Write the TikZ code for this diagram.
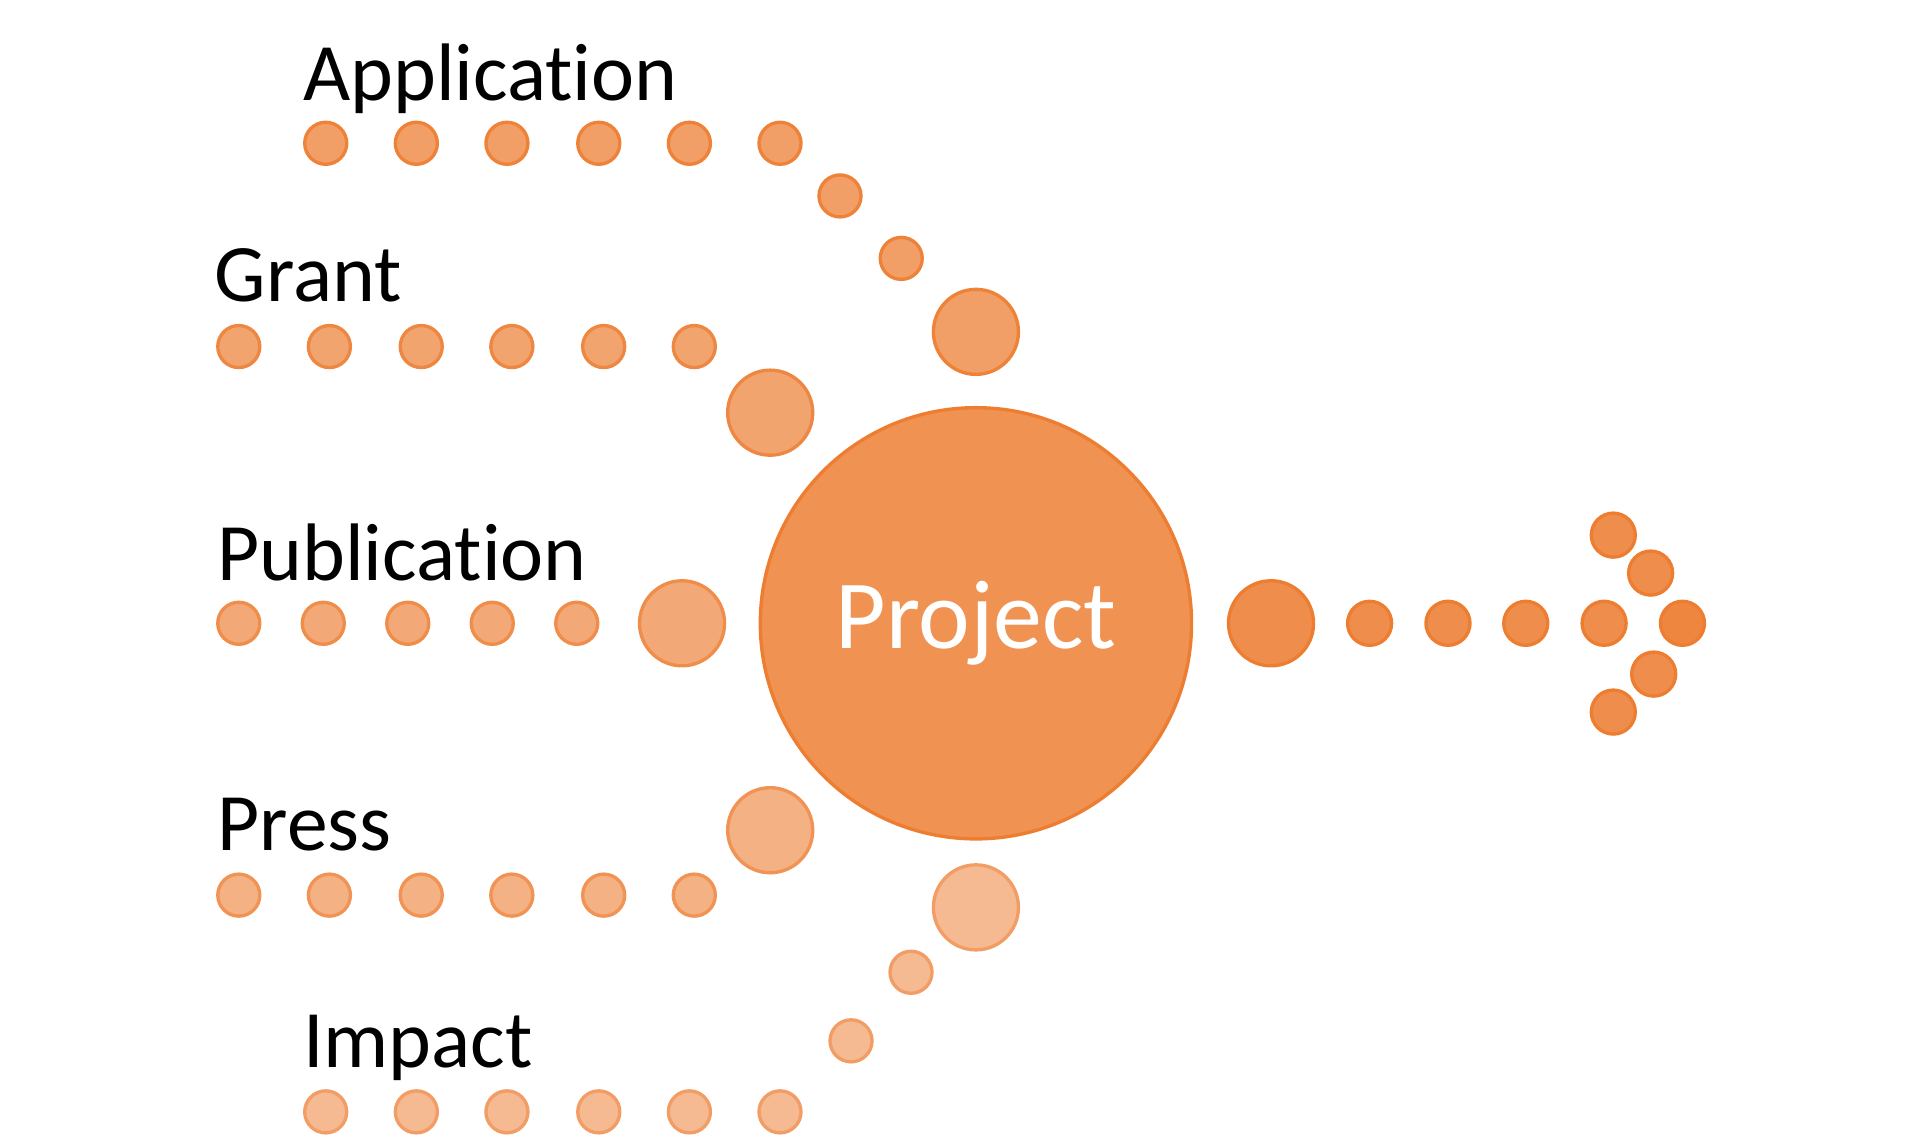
\documentclass[tikz,border=0pt]{standalone}
\usepackage{fontspec}
\setmainfont{Carlito}[Ligatures=NoCommon]
\usepackage{tikz}
\definecolor{projOrange}{HTML}{ED7D31}
\newcommand{\pxUnit}{0.0122449cm}
\newcommand{\dotSize}{0.42cm}
\newcommand{\bigDotSize}{0.85cm}
\newcommand{\projectSize}{4.31cm}
\newcommand{\labelFont}{\fontsize{23.2}{28}\selectfont}
\newcommand{\projectFont}{\fontsize{27.8}{33}\selectfont}

\begin{document}
\begin{tikzpicture}[x=\pxUnit, y=-\pxUnit,
    dot/.style={circle, inner sep=0pt, minimum size=\dotSize, line width=0.95pt},
    bigdot/.style={dot, minimum size=\bigDotSize},
    appdot/.style={dot, fill=projOrange!74!white, draw=projOrange!96!white},
    grantdot/.style={dot, fill=projOrange!70!white, draw=projOrange!92!white},
    pubdot/.style={dot, fill=projOrange!66!white, draw=projOrange!88!white},
    pressdot/.style={dot, fill=projOrange!60!white, draw=projOrange!83!white},
    impactdot/.style={dot, fill=projOrange!53!white, draw=projOrange!75!white},
    outdot/.style={dot, fill=projOrange!87!white, draw=projOrange},
    rowlabel/.style={anchor=base west, inner sep=0pt, font=\labelFont}]
\useasboundingbox (0,0) rectangle (1568,930.2);
% project in the middle
\node (project) [circle, minimum size=\projectSize, inner sep=0pt, fill=projOrange!84!white, draw=projOrange, line width=0.95pt, text=white, font=\projectFont] at (797,509) {\raisebox{-1.3pt}{Project}};
% application
\node (appLabel) [rowlabel] at (247,82) {Application};
\node (app1) [appdot] at (266,117) {};
\node (app2) [appdot] at (340,117) {};
\node (app3) [appdot] at (414,117) {};
\node (app4) [appdot] at (489,117) {};
\node (app5) [appdot] at (563,117) {};
\node (app6) [appdot] at (637,117) {};
\node (app7) [appdot] at (686,160) {};
\node (app8) [appdot] at (736,211) {};
\node (app9) [appdot, bigdot] at (797,271) {};
% grant
\node (grantLabel) [rowlabel] at (175,246.5) {Grant};
\node (grant1) [grantdot] at (195,283) {};
\node (grant2) [grantdot] at (269,283) {};
\node (grant3) [grantdot] at (344,283) {};
\node (grant4) [grantdot] at (418,283) {};
\node (grant5) [grantdot] at (493,283) {};
\node (grant6) [grantdot] at (567,283) {};
\node (grant7) [grantdot, bigdot] at (629,337) {};
% publication
\node (pubLabel) [rowlabel] at (177,473.7) {Publication};
\node (pub1) [pubdot] at (195,509) {};
\node (pub2) [pubdot] at (264,509) {};
\node (pub3) [pubdot] at (333,509) {};
\node (pub4) [pubdot] at (402,509) {};
\node (pub5) [pubdot] at (471,509) {};
\node (pub6) [pubdot, bigdot] at (557,509) {};
% press
\node (pressLabel) [rowlabel] at (177,694.7) {Press};
\node (press1) [pressdot] at (195,731) {};
\node (press2) [pressdot] at (269,731) {};
\node (press3) [pressdot] at (344,731) {};
\node (press4) [pressdot] at (418,731) {};
\node (press5) [pressdot] at (493,731) {};
\node (press6) [pressdot] at (567,731) {};
\node (press7) [pressdot, bigdot] at (629,678) {};
% impact
\node (impactLabel) [rowlabel] at (247,872) {Impact};
\node (impact1) [impactdot] at (266,908) {};
\node (impact2) [impactdot] at (340,908) {};
\node (impact3) [impactdot] at (414,908) {};
\node (impact4) [impactdot] at (489,908) {};
\node (impact5) [impactdot] at (563,908) {};
\node (impact6) [impactdot] at (637,908) {};
\node (impact7) [impactdot] at (695,850) {};
\node (impact8) [impactdot] at (744,794) {};
\node (impact9) [impactdot, bigdot] at (797,741) {};
% dotted arrow to the right
\node (out1) [outdot, bigdot] at (1038,509) {};
\node (out2) [outdot, minimum size=0.44cm] at (1118.5,509) {};
\node (out3) [outdot, minimum size=0.44cm] at (1182.5,509) {};
\node (out4) [outdot, minimum size=0.44cm] at (1246,509) {};
\node (out5) [outdot, minimum size=0.44cm] at (1310,509) {};
\node (tip) [outdot, minimum size=0.44cm, fill=projOrange!93!white] at (1374,509) {};
\node (tipUp1) [outdot, minimum size=0.44cm] at (1348,468) {};
\node (tipUp2) [outdot, minimum size=0.44cm] at (1317.5,437) {};
\node (tipDown1) [outdot, minimum size=0.44cm] at (1350.5,550.5) {};
\node (tipDown2) [outdot, minimum size=0.44cm] at (1317.5,581.5) {};
\end{tikzpicture}
\end{document}
